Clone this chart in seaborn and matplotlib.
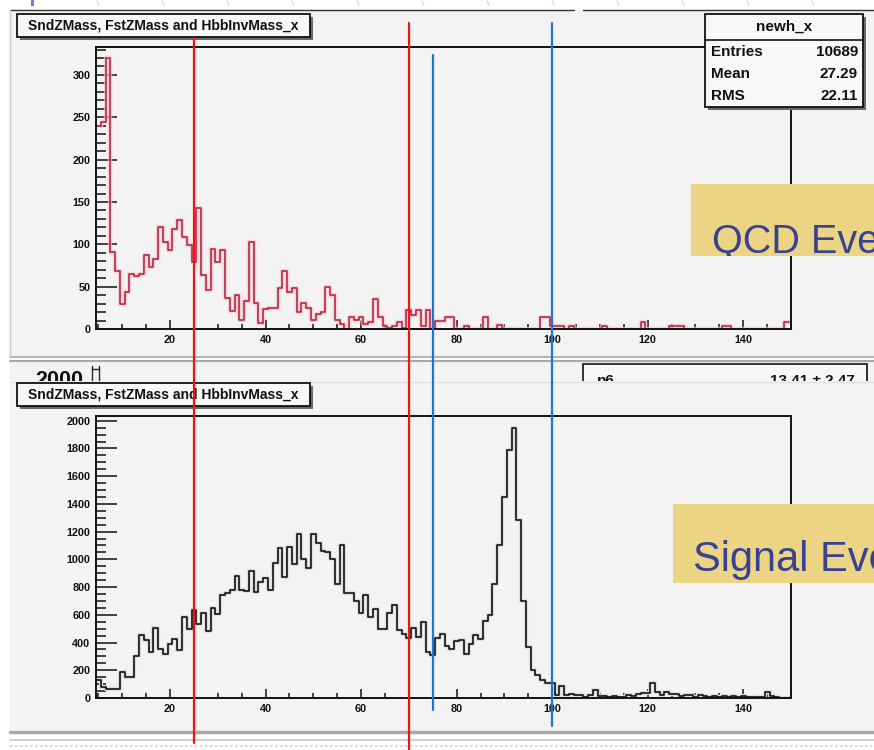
import numpy as np
import pandas as pd
import matplotlib
matplotlib.use("Agg")
import matplotlib.pyplot as plt
import seaborn as sns
from matplotlib.patches import Rectangle
from matplotlib.lines import Line2D
from matplotlib.ticker import MultipleLocator
from matplotlib.transforms import blended_transform_factory, Bbox, TransformedBbox

# ---------------- data ----------------
mass_bins = list(range(5, 150))  # bin centres (GeV), unit-width bins

qcd_counts = [
    240, 245, 320, 91, 69, 29, 44, 65, 63, 65,       # 5-14
    87, 73, 83, 120, 103, 93, 118, 129, 109, 99,     # 15-24
    79, 143, 64, 46, 94, 79, 93, 37, 21, 40,         # 25-34
    11, 33, 103, 31, 7, 24, 25, 25, 48, 69,          # 35-44
    44, 48, 20, 31, 25, 11, 18, 20, 50, 40,          # 45-54
    11, 6, 0, 14, 11, 14, 6, 8, 35, 14,              # 55-64
    3, 1, 4, 8, 1, 22, 17, 22, 3, 22,                # 65-74
    0, 10, 10, 14, 14, 0, 0, 3, 0, 0,                # 75-84
    0, 14, 0, 0, 5, 0, 0, 0, 0, 0,                   # 85-94
    0, 0, 0, 14, 14, 4, 4, 3, 0, 3,                  # 95-104
    0, 0, 0, 0, 0, 0, 3, 0, 0, 0,                    # 105-114
    0, 0, 0, 0, 8, 0, 0, 0, 0, 0,                    # 115-124
    4, 3, 3, 0, 0, 0, 0, 0, 0, 0,                    # 125-134
    0, 4, 4, 0, 0, 0, 0, 0, 0, 0,                    # 135-144
    0, 0, 0, 0, 8,                                   # 145-149
]

signal_counts = [
    130, 80, 67, 62, 62, 190, 155, 155, 300, 457,    # 5-14
    415, 335, 505, 350, 320, 392, 425, 344, 584, 500,  # 15-24
    637, 536, 610, 485, 650, 605, 740, 757, 776, 877,  # 25-34
    776, 771, 915, 764, 835, 867, 781, 975, 1085, 870,  # 35-44
    1090, 965, 1180, 1000, 940, 1180, 1120, 1060, 1050, 1000,  # 45-54
    820, 1100, 760, 760, 700, 615, 740, 585, 640, 500,  # 55-64
    500, 615, 670, 490, 465, 430, 505, 440, 545, 335,  # 65-74
    310, 430, 465, 372, 356, 410, 416, 320, 392, 457,  # 75-84
    423, 553, 596, 824, 1101, 1449, 1790, 1946, 1286, 697,  # 85-94
    367, 205, 164, 128, 109, 105, 20, 85, 25, 30,    # 95-104
    20, 25, 10, 20, 58, 15, 15, 10, 12, 8,           # 105-114
    10, 25, 15, 30, 35, 35, 105, 45, 25, 40,         # 115-124
    30, 30, 15, 20, 25, 10, 25, 15, 10, 12,          # 125-134
    8, 15, 10, 12, 5, 15, 8, 10, 5, 8,               # 135-144
    40, 15, 5, 0, 0,                                 # 145-149
]

x_ticks = [20, 40, 60, 80, 100, 120, 140]
qcd_yticks = [0, 50, 100, 150, 200, 250, 300]
sig_yticks = [0, 200, 400, 600, 800, 1000, 1200, 1400, 1600, 1800, 2000]
red_cuts = [25, 70]
blue_cuts = [75, 100]

hist_title = "SndZMass, FstZMass and HbbInvMass_x"
stats_name = "newh_x"
stats_labels = ["Entries", "Mean", "RMS"]
stats_values = ["10689", "27.29", "22.11"]
hidden_par = "p6"
hidden_val = "13.41 \u00b1 2.47"
hidden_axis_label = "2000"
qcd_label = "QCD Events"
signal_label = "Signal Events"

# ---------------- figure ----------------
sns.set_style("ticks")
plt.rcParams['font.family'] = ['Liberation Sans', 'DejaVu Sans']

W, H = 874, 750
fig = plt.figure(figsize=(W / 100, H / 100), dpi=100)
fig.patch.set_facecolor('white')


def fx(x):
    return x / W


def fy(y):
    return 1 - y / H


def rect(x0, y0, x1, y1, **kw):
    r = Rectangle((fx(x0), fy(y1)), (x1 - x0) / W, (y1 - y0) / H,
                  transform=fig.transFigure, **kw)
    fig.add_artist(r)
    return r


def line(x0, y0, x1, y1, **kw):
    ln = Line2D([fx(x0), fx(x1)], [fy(y0), fy(y1)], transform=fig.transFigure, **kw)
    fig.add_artist(ln)
    return ln


def text(x, y, s, **kw):
    return fig.text(fx(x), fy(y), s, **kw)


canvas_bg = '#f3f3f3'
# background slide decorations
for xx in range(97, 874, 65):
    line(xx, 1, xx + 2, 5, color='#c9cff2', lw=0.8, zorder=-10)
line(10, 746, 874, 746, color='#c9d1f3', lw=1.2, ls=(0, (1.5, 1.5)), zorder=-10)
rect(31, 0, 34, 6, fc='#6a7cf0', ec='none', zorder=-10)

# top canvas
rect(10, 10, 874, 358, fc=canvas_bg, ec='none', zorder=-6)
line(10, 10, 574, 10, color='#333', lw=1.0, zorder=-5)
line(583, 10, 874, 10, color='#333', lw=1.0, zorder=-5)
line(10, 357, 874, 357, color='#b5b5b5', lw=1.5, zorder=-5)
line(10, 10, 10, 357, color='#c8c8c8', lw=1.0, zorder=-5)

# partially hidden canvas in between
rect(10, 360, 874, 382, fc=canvas_bg, ec='none', zorder=-6)
line(10, 361, 874, 361, color='#a8a8a8', lw=1.5, zorder=-5)
text(35, 381, hidden_axis_label, fontsize=15.5, fontweight='bold', color='#111',
     ha='left', va='center', zorder=-5)
line(92, 366, 92, 382, color='#222', lw=1.0, zorder=-5)
line(92, 369, 99, 369, color='#222', lw=1.0, zorder=-5)
line(99, 366, 99, 382, color='#222', lw=1.0, zorder=-5)
rect(583, 364, 867, 400, fc='#f7f7f7', ec='#111', lw=1.2, zorder=-5)
text(597, 381, hidden_par, fontsize=11, fontweight='bold', color='#111',
     ha='left', va='center', zorder=-4.5)
text(855, 381, hidden_val, fontsize=11, fontweight='bold', color='#111',
     ha='right', va='center', zorder=-4.5)

# bottom canvas (covers the hidden one)
rect(10, 381, 874, 731, fc=canvas_bg, ec='none', zorder=-3)
line(10, 381.5, 874, 381.5, color='#e2e2e2', lw=1.0, zorder=-2.9)
line(10, 732, 874, 732, color='#a9a9a9', lw=2.5, zorder=-2.9)
line(10, 740, 874, 740, color='#d0d0d0', lw=1.5, zorder=-2.9)

# axes
ax_top = fig.add_axes([fx(96), fy(329), (791 - 96) / W, (329 - 47) / H])
ax_bot = fig.add_axes([fx(96), fy(698), (791 - 96) / W, (698 - 416) / H])

df_q = pd.DataFrame({"mass": mass_bins, "events": qcd_counts})
df_s = pd.DataFrame({"mass": mass_bins, "events": signal_counts})
hist_kw = dict(x="mass", weights="events", binwidth=1.0, binrange=(4.5, 149.5),
               element="step", fill=False)

sns.histplot(data=df_q, color='#f7c6d1', linewidth=3.2, alpha=0.7, ax=ax_top, **hist_kw)
sns.histplot(data=df_q, color='#b8203c', linewidth=1.15, ax=ax_top, **hist_kw)
sns.histplot(data=df_s, color='#dedede', linewidth=3.0, ax=ax_bot, **hist_kw)
sns.histplot(data=df_s, color='#111111', linewidth=1.2, ax=ax_bot, **hist_kw)


def style_axes(ax, ymax, yticks, yminor):
    ax.set_xlim(4.5, 150)
    ax.set_ylim(0, ymax)
    ax.set_facecolor('none')
    ax.set_xticks(x_ticks)
    ax.xaxis.set_minor_locator(MultipleLocator(5))
    ax.set_yticks(yticks)
    ax.yaxis.set_minor_locator(MultipleLocator(yminor))
    ax.tick_params(axis='both', which='both', direction='in', colors='#111',
                   labelsize=7.8, width=1.1, top=False, right=False)
    ax.tick_params(axis='y', which='major', length=15, pad=4)
    ax.tick_params(axis='y', which='minor', length=7.5)
    ax.tick_params(axis='x', which='major', length=6.5, pad=4)
    ax.tick_params(axis='x', which='minor', length=3.3)
    for sp in ax.spines.values():
        sp.set_linewidth(1.4)
        sp.set_color('#111')
        sp.set_visible(True)
    for lab in ax.get_xticklabels() + ax.get_yticklabels():
        lab.set_fontweight('bold')
    ax.set_xlabel('')
    ax.set_ylabel('')
    ax.grid(False)


style_axes(ax_top, 333, qcd_yticks, 10)
style_axes(ax_bot, 2034, sig_yticks, 50)


def pave(x0, y0, x1, y1, z):
    rect(x0 + 3, y0 + 3, x1 + 3, y1 + 3, fc='#6a6a6a', ec='none', zorder=z)
    rect(x0, y0, x1, y1, fc='#f8f8f8', ec='#111', lw=1.3, zorder=z + 0.1)


# title boxes
for y0 in (14, 383):
    pave(17, y0, 310, y0 + 23, 3)
    text(163.5, y0 + 12, hist_title, fontsize=10, fontweight='bold', color='#111',
         ha='center', va='center', zorder=3.5)

# stats box
pave(705, 14, 863, 107, 3)
line(705, 40, 863, 40, color='#111', lw=1.2, zorder=3.3)
text(784, 27, stats_name, fontsize=11, fontweight='bold', color='#111',
     ha='center', va='center', zorder=3.5)
for i, (lab, val) in enumerate(zip(stats_labels, stats_values)):
    yy = 52 + 22 * i
    text(711, yy, lab, fontsize=11, fontweight='bold', color='#111',
         ha='left', va='center', zorder=3.5)
    text(858, yy, val, fontsize=11, fontweight='bold', color='#111',
         ha='right', va='center', zorder=3.5)

# cut lines spanning both panels (x from data scale)
tr = blended_transform_factory(ax_top.transData, fig.transFigure)
red_spans = [(38, 743), (23, 750)]
blue_spans = [(55, 710), (23, 726)]
for xv, (ya, yb) in zip(red_cuts, red_spans):
    fig.add_artist(Line2D([xv, xv], [fy(ya), fy(yb)], transform=tr,
                          color='#f21212', lw=1.6, zorder=10))
for xv, (ya, yb) in zip(blue_cuts, blue_spans):
    fig.add_artist(Line2D([xv, xv], [fy(ya), fy(yb)], transform=tr,
                          color='#1c76d2', lw=1.6, zorder=10))

# yellow labels (cut off by the right edge of the slide crop, as in the source)
for (x0, y0, x1, y1, tx, ty, s, fs) in [
        (691, 184, 874, 256, 712, 252, qcd_label, 28.5),
        (673, 504, 874, 583, 693, 571, signal_label, 30)]:
    rect(x0, y0, x1, y1, fc='#ebd585', ec='none', zorder=6)
    t = text(tx, ty, s, fontsize=fs, color='#3a4192', ha='left', va='baseline',
             zorder=7)
    t.set_clip_box(TransformedBbox(Bbox([[fx(x0), fy(y1)], [fx(x1), fy(y0)]]),
                                   fig.transFigure))
    t.set_clip_on(True)

fig.savefig("out.png", dpi=100, facecolor=fig.get_facecolor())
